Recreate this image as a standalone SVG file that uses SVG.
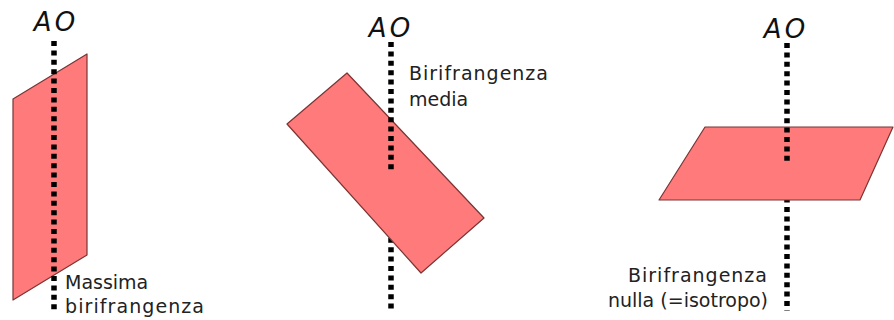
<svg xmlns="http://www.w3.org/2000/svg" width="894" height="320" viewBox="0 0 894 320">
  <style>
    .plate { fill: #FF7A7A; stroke: #7A3434; stroke-width: 1.2; stroke-linejoin: round; }
    .axis { fill: none; stroke: #000; stroke-width: 5.5; stroke-dasharray: 5 4.4; }
    .ao { font-family: "DejaVu Sans", sans-serif; font-style: italic; font-size: 26px; letter-spacing: 3px; fill: #111; text-anchor: middle; }
    .lbl { font-family: "DejaVu Sans", sans-serif; font-size: 19px; fill: #222; }
  </style>
  <rect x="0" y="0" width="894" height="320" fill="#fff"/>

  <!-- Panel 1 -->
  <g id="panel1">
    <text class="ao" x="56" y="31">AO</text>
    <polygon id="plate1" class="plate" points="13,99 87,54 87,255 13,300"/>
    <line class="axis" x1="54" y1="41" x2="54" y2="311"/>
    <text class="lbl" x="65" y="289">Massima</text>
    <text class="lbl" x="65" y="313" textLength="139" lengthAdjust="spacing">birifrangenza</text>
  </g>

  <!-- Panel 2 -->
  <g id="panel2">
    <text class="ao" x="391" y="37">AO</text>
    <line class="axis" x1="391" y1="172" x2="391" y2="311"/>
    <polygon id="plate2" class="plate" points="347,73 484,218 421,273 287,124"/>
    <line class="axis" x1="391" y1="42" x2="391" y2="173"/>
    <text class="lbl" x="409" y="80" textLength="139" lengthAdjust="spacing">Birifrangenza</text>
    <text class="lbl" x="409" y="106">media</text>
  </g>

  <!-- Panel 3 -->
  <g id="panel3">
    <text class="ao" x="786" y="38">AO</text>
    <line class="axis" x1="787" y1="160" x2="787" y2="311"/>
    <polygon id="plate3" class="plate" points="705,127 893,127 860,200 659,200"/>
    <line class="axis" x1="787" y1="43" x2="787" y2="165"/>
    <text class="lbl" x="628" y="282" textLength="139" lengthAdjust="spacing">Birifrangenza</text>
    <text class="lbl" x="768" y="307" text-anchor="end">nulla (=isotropo)</text>
  </g>
</svg>
